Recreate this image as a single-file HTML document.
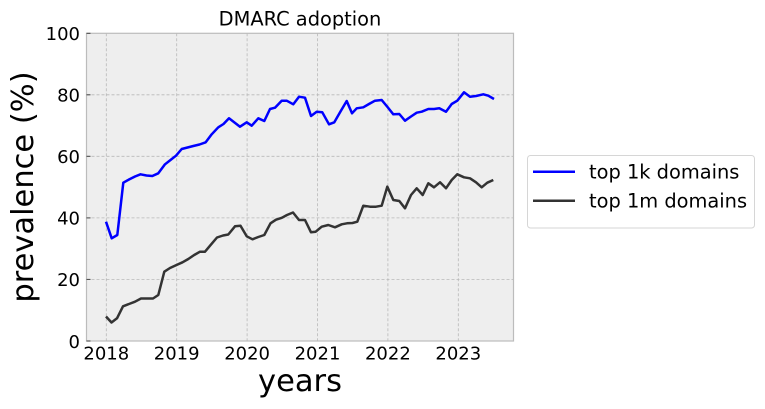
<!DOCTYPE html>
<html>
<head>
<meta charset="utf-8">
<style>
  html, body { margin: 0; padding: 0; background: #ffffff; }
  svg { display: block; }
  text { font-family: "DejaVu Sans", "Liberation Sans", sans-serif; fill: #000; }
</style>
</head>
<body>
<svg width="765" height="409" viewBox="0 0 765 409" xmlns="http://www.w3.org/2000/svg">
  <rect x="0" y="0" width="765" height="409" fill="#ffffff"/>
  <!-- axes background -->
  <rect x="86.5" y="33.3" width="427" height="307.7" fill="#eeeeee"/>
  <!-- grid -->
  <g stroke="#b8b8b8" stroke-width="0.8" stroke-dasharray="3,2" fill="none">
    <line x1="106.3" y1="33.3" x2="106.3" y2="341"/>
    <line x1="176.7" y1="33.3" x2="176.7" y2="341"/>
    <line x1="247.1" y1="33.3" x2="247.1" y2="341"/>
    <line x1="317.5" y1="33.3" x2="317.5" y2="341"/>
    <line x1="387.9" y1="33.3" x2="387.9" y2="341"/>
    <line x1="458.3" y1="33.3" x2="458.3" y2="341"/>
    <line x1="86.5" y1="94.8" x2="513.5" y2="94.8"/>
    <line x1="86.5" y1="156.3" x2="513.5" y2="156.3"/>
    <line x1="86.5" y1="217.9" x2="513.5" y2="217.9"/>
    <line x1="86.5" y1="279.4" x2="513.5" y2="279.4"/>
  </g>
  <!-- spines -->
  <rect x="86.5" y="33.3" width="427" height="307.7" fill="none" stroke="#bcbcbc" stroke-width="1.2"/>
  <!-- y ticks -->
  <g stroke="#444" stroke-width="1">
    <line x1="86.5" y1="33.3" x2="90.5" y2="33.3"/>
    <line x1="86.5" y1="94.8" x2="90.5" y2="94.8"/>
    <line x1="86.5" y1="156.3" x2="90.5" y2="156.3"/>
    <line x1="86.5" y1="217.9" x2="90.5" y2="217.9"/>
    <line x1="86.5" y1="279.4" x2="90.5" y2="279.4"/>
    <line x1="86.5" y1="341" x2="90.5" y2="341"/>
  </g>

  <!-- series: top 1k (blue) -->
  <polyline fill="none" stroke="#0000ff" stroke-width="2.5" stroke-linejoin="round" stroke-linecap="butt"
    points="106,221.7 111.7,238.3 117.3,235 123.3,182.7 129,179.5 135,176.5 140.5,174.3 146.5,175.5 152.3,176 158.3,173.3 165,164.3 170.5,160 176,155.7 181.7,149 187.5,147.5 193.3,146 199.5,144.5 205.7,142.3 211.7,134.3 218.3,127.3 223.5,124 229,118.3 234.5,122.5 240,126.7 246.7,122.3 251.7,125.7 258.3,118.3 264.3,121 270,109 275,107.7 281.7,100.7 286.7,100.7 293.3,104.3 299,96.7 305,97.7 311,116 316.7,111.7 322.3,112.3 329,124.3 334.3,122.3 340.5,111.5 346.7,101 352,113.3 356.7,108.3 363.3,107.3 369,104 375,100.7 381.7,100 387.5,107 393.3,114.3 399.3,114 405,120.7 411,116.5 416.7,112.7 421.7,111.7 428.3,109 434,109 439.3,108.3 446,111.7 451.7,104 457.3,100.7 464,92.3 470,96.7 476,96 483.3,94.3 488.3,95.7 494,99"/>

  <!-- series: top 1m (dark gray) -->
  <polyline fill="none" stroke="#333333" stroke-width="2.5" stroke-linejoin="round" stroke-linecap="butt"
    points="106,316.5 111.5,322.5 117,318.3 123,306.3 129,304 135,301.7 141,298.5 147,298.5 153,298.5 158.3,295 164.3,271.7 170,268 176.5,265 182.5,262.3 188.3,259 194.2,255 200,251.7 205,251.7 211.3,244.2 217,237.5 223,235.5 228.3,234.5 235,226.3 240.5,225.8 246.7,236.3 252.5,239.3 258.3,237 264.3,235 270.5,223.3 276,219.7 281.8,217.8 287,215 293,212.5 299,220 305,220 311,232.3 315.7,231.7 321.7,226.7 328.3,225 335,227.3 341.7,224.3 347,223.3 352.5,223 357.3,221.7 363.3,205.7 370,206.7 376,206.7 381.7,205.7 387.3,186.7 393.3,200 399.3,201 405,208.3 411,195 416.7,188.3 422.7,195 428.3,183.3 434,187.3 440,182.3 446,188.3 451.7,180 457.3,174.3 464,177.3 470,178.3 476,182.3 481.7,187.3 487.3,182.7 493.3,180"/>

  <!-- y tick labels -->
  <g font-size="18" text-anchor="end">
    <text x="80" y="40.1">100</text>
    <text x="80" y="101.6">80</text>
    <text x="80" y="163.1">60</text>
    <text x="80" y="224.7">40</text>
    <text x="80" y="286.2">20</text>
    <text x="80" y="347.8">0</text>
  </g>
  <!-- x tick labels -->
  <g font-size="18" text-anchor="middle">
    <text x="106.3" y="359.5">2018</text>
    <text x="176.7" y="359.5">2019</text>
    <text x="247.1" y="359.5">2020</text>
    <text x="317.5" y="359.5">2021</text>
    <text x="387.9" y="359.5">2022</text>
    <text x="458.3" y="359.5">2023</text>
  </g>

  <!-- title -->
  <text x="300" y="25.5" font-size="19.4" text-anchor="middle">DMARC adoption</text>
  <!-- axis labels -->
  <text x="300" y="391" font-size="30.5" text-anchor="middle">years</text>
  <text transform="translate(33,187) rotate(-90)" x="0" y="0" font-size="30.5" text-anchor="middle">prevalence (%)</text>

  <!-- legend -->
  <rect x="527.5" y="155.5" width="227" height="72.5" rx="3" ry="3" fill="#ffffff" stroke="#d6d6d6" stroke-width="1"/>
  <line x1="533" y1="171.7" x2="575" y2="171.7" stroke="#0000ff" stroke-width="2.5"/>
  <line x1="533" y1="200.7" x2="575" y2="200.7" stroke="#333333" stroke-width="2.5"/>
  <text x="589" y="178.6" font-size="19.4">top 1k domains</text>
  <text x="589" y="207.6" font-size="19.4">top 1m domains</text>
</svg>
</body>
</html>
